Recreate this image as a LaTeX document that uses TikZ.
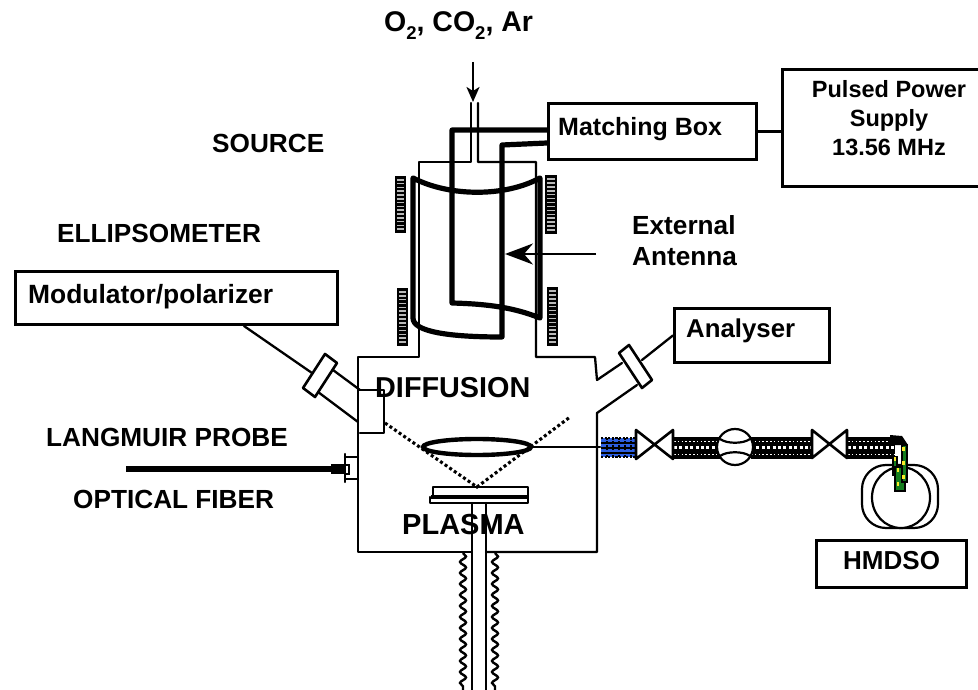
\documentclass[tikz,border=0pt]{standalone}
\usepackage{fontspec}
\setmainfont{Liberation Sans}
\usetikzlibrary{arrows.meta,decorations.pathmorphing,calc,shapes.geometric}
\definecolor{bluecoil}{RGB}{45,95,225}
\definecolor{greenpart}{RGB}{20,125,30}
\definecolor{yellowpart}{RGB}{250,235,40}
\newcommand{\fsz}[1]{\bfseries\fontsize{#1}{#1}\selectfont}
\tikzset{
 wall/.style={line width=2.3pt,line cap=round,line join=round},
 antenna/.style={line width=5.2pt,line join=round},
 boxnode/.style={draw,line width=2.8pt,fill=white,inner sep=0pt,anchor=north west},
 lab/.style={inner sep=0pt,anchor=base west,font=\fsz{26.2}},
 valve/.style={draw,fill=white,line width=2.6pt,line join=round},
 flange/.style={draw,fill=white,line width=2.6pt,line join=round},
 dots/.style={line width=3.1pt,dash pattern=on 3pt off 2.6pt},
 wavy/.style={line width=2.4pt,decorate,decoration={snake,amplitude=3pt,segment length=11pt}},
}
\newcommand{\coilbar}[4]{%
 \fill[black] (#1,#2) rectangle (#3,#4);
 \foreach \yy in {1,...,14}{\fill[gray!55] ({#1+2},{#2+(#4-#2)*\yy/15-0.8}) rectangle ({#3-2},{#2+(#4-#2)*\yy/15+0.8});}
}
\newcommand{\bellows}[2]{%
 \fill[black] (#1,437) rectangle (#2,458.5);
 \draw[white,line width=3.2pt,dash pattern=on 3pt off 2.4pt] (#1,447.5) -- (#2,447.5);
 \draw[white,line width=.7pt,dash pattern=on 1.6pt off 2.2pt] (#1,441.5) -- (#2,441.5);
 \draw[white,line width=.7pt,dash pattern=on 1.6pt off 2.2pt] (#1,454) -- (#2,454);
}
\begin{document}
\begin{tikzpicture}[x=1pt,y=-1pt]
\useasboundingbox (0,0) rectangle (978,690);

% pipes and chamber
\draw[wall] (471,103) -- (471,162) -- (419,162) -- (419,357) -- (358,357) -- (358,552) -- (471,552);
\draw[wall] (478,103) -- (478,162) -- (536,162) -- (536,357) -- (595,357) -- (597,380);
\draw[wall] (486,552) -- (597,552) -- (597,413) -- (637,385);
\draw[wall] (597,380) -- (622,363);
\draw[wall] (472,503) -- (472,690);
\draw[wall] (486,503) -- (486,690);
\draw[wavy] (463,553) -- (463,690);
\draw[wavy] (495,553) -- (495,690);

% coils
\coilbar{395}{176}{406}{233}
\coilbar{545}{175}{557}{234}
\coilbar{397}{288}{408}{346}
\coilbar{547}{287}{558}{346}

% boxes
\node[boxnode,minimum width=208pt,minimum height=56pt] (match) at (547,102) {};
\node[boxnode,minimum width=197pt,minimum height=117pt] (supply) at (781,68) {};
\node[boxnode,minimum width=322pt,minimum height=53pt] (modul) at (14,270) {};
\node[boxnode,minimum width=155pt,minimum height=54pt] (analy) at (673,307) {};
\node[boxnode,minimum width=150pt,minimum height=47pt] (hmdso) at (815,539) {};
\draw[wall] (match.east) -- (supply.west |- match.east);

% antenna
\coordinate (ma) at (match.west |- 0,130);
\coordinate (mb) at (match.west |- 0,143);
\draw[antenna] (ma) -- (452,130) -- (452,303) .. controls (490,304) and (515,308) .. (540,318) -- (540,178) .. controls (505,197) and (450,197) .. (413,178) -- (413,318) .. controls (413,332) and (450,337) .. (502,337) -- (502,145) -- (mb);

% gas and antenna arrows
\coordinate (gastop) at (473,62);
\coordinate (gastip) at (473,102);
\draw[line width=2.3pt,-{Stealth[length=15pt,width=13pt,inset=4pt]}] (gastop) -- (gastip);
\coordinate (anttail) at (596,254);
\coordinate (anttip) at (505,254);
\draw[line width=2.3pt,-{Stealth[length=28pt,width=21pt,inset=9pt]}] (anttail) -- (anttip);

% left port
\draw[wall] (244,326) -- (312,373);
\draw[wall] (333,370) -- (360,390);
\draw[wall] (318,392) -- (358,422);
\draw[flange] (325,354) -- (337,363) -- (315,397) -- (303,388) -- cycle;
\draw[wall] (360,390) -- (384,390) -- (384,433) -- (360,433);

% right port
\draw[wall] (analy.west) -- (642,360);
\draw[flange] (629,345) -- (652,380) -- (642,388) -- (619,353) -- cycle;

% optics
\coordinate (os) at (385,423);
\coordinate (oc) at (477,487);
\coordinate (oe) at (570,417);
\draw[dots] (os) -- (oc) -- (oe);
\node[draw,ellipse,line width=4.4pt,minimum width=108pt,minimum height=16pt,inner sep=0pt] (lens) at (477,447) {};
\draw[wall] (lens.east) -- (600,447);

% substrate
\draw[wall] (433,487) rectangle (528,497);
\draw[line width=3.6pt] (431,497) -- (528,497);
\draw[wall] (430,497) -- (430,503) -- (528,503) -- (528,497);
\fill[white] (476.4,491.5) rectangle (478,495);

% probe
\draw[wall] (345,454) -- (345,482);
\draw[wall] (345,457) -- (358,457);
\draw[wall] (345,479) -- (358,479);
\draw[line width=1.8pt] (345,465) -- (349,465) -- (349,474) -- (345,474);
\coordinate (rodstart) at (126,469);
\coordinate (rodend) at (331,469);
\draw[line width=5.4pt] (rodstart) -- (rodend);
\fill (331,464) rectangle (345,474);

% vacuum line
\fill[bluecoil] (601,438) rectangle (636,457);
\draw[line width=2.4pt,dash pattern=on 2.2pt off 1.4pt] (601,438) -- (636,438);
\draw[line width=2.4pt,dash pattern=on 2.2pt off 1.4pt] (601,457) -- (636,457);
\foreach \gx in {607,613,619,625,631}{\draw[line width=1.2pt,dash pattern=on 2pt off 1.4pt] (\gx,438) -- (\gx,457);}
\foreach \gy in {443,448,453}{\draw[line width=1.2pt] (601,\gy) -- (636,\gy);}
\bellows{674}{720}
\bellows{751}{812}
\bellows{848}{895}
\fill[black] (890,435) -- (902,436) -- (908,445) -- (890,445) -- cycle;
\draw[valve] (636,430) -- (673,459) -- (673,430) -- (636,459) -- cycle;
\draw[valve] (812,430) -- (847,458) -- (847,430) -- (812,458) -- cycle;
\node[draw,circle,fill=white,line width=2.2pt,minimum size=36pt,inner sep=0pt] (gauge) at (735,447) {};
\draw[line width=2.2pt] (720,439) .. controls (727,444) and (743,444) .. (750,439);
\draw[line width=2.2pt] (720,456) .. controls (727,451) and (743,451) .. (750,456);

% source bottle
\draw[line width=2.2pt,rounded corners=24pt] (862,465) rectangle (938,528);
\draw[line width=2.2pt,fill=white] (901,497.5) ellipse (29pt and 30.5pt);
\draw[draw=black,fill=greenpart,line width=1.2pt] (893,457) rectangle (897,475);
\draw[draw=black,fill=greenpart,line width=1.4pt] (895,467) rectangle (905,491);
\draw[draw=black,fill=greenpart,line width=1.2pt] (902,445) rectangle (907,482);
\foreach \px/\py in {898/470,898/484,903.5/449,903.5/463,903.5/477,895/459}{\fill[yellowpart] (\px-1.4,\py-1.8) rectangle (\px+1.4,\py+1.8);}

% labels
\node[lab,font=\fsz{28.5}] (gas) at (384,32) {O\raisebox{-8pt}{\fsz{18.5}2}, CO\raisebox{-8pt}{\fsz{18.5}2}, Ar};
\node[lab,font=\fsz{25}] (matchtxt) at (558,136) {Matching Box};
\node[lab,font=\fsz{23.5},anchor=base] (supplytxta) at (889,98) {Pulsed Power};
\node[lab,font=\fsz{23.5},anchor=base] (supplytxtb) at (889,127) {Supply};
\node[lab,font=\fsz{23.5},anchor=base] (supplytxtc) at (889,156) {13.56 MHz};
\node[lab] (srctxt) at (212,153) {SOURCE};
\node[lab] (elltxt) at (57,243) {ELLIPSOMETER};
\node[lab,align=left,anchor=west] (exttxt) at (632,241) {External\\[5pt]Antenna};
\node[lab,font=\fsz{26.4}] (modtxt) at (28,303) {Modulator/polarizer};
\node[lab,font=\fsz{28.8}] (difftxt) at (375,397) {DIFFUSION};
\node[lab,font=\fsz{29}] (plasmatxt) at (402,534) {PLASMA};
\node[lab] (langtxt) at (46,446) {LANGMUIR PROBE};
\node[lab] (fibtxt) at (73,508) {OPTICAL FIBER};
\node[lab,font=\fsz{25.8}] (anatxt) at (686,337) {Analyser};
\node[lab,font=\fsz{26}] (hmtxt) at (843,569) {HMDSO};
\end{tikzpicture}
\end{document}
